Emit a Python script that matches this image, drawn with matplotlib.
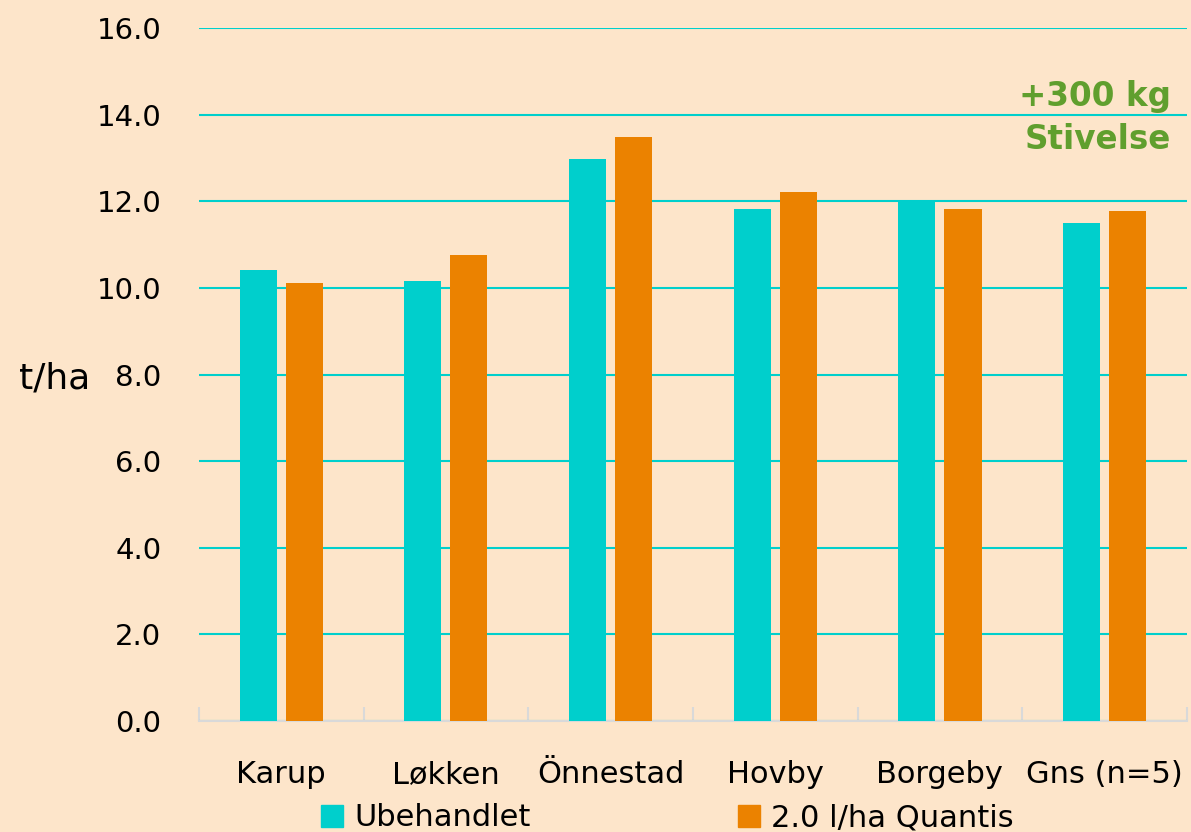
import numpy as np
import matplotlib.pyplot as plt
from matplotlib.patches import Patch

sites = ["Karup", "Løkken", "Önnestad", "Hovby", "Borgeby", "Gns (n=5)"]
ubehandlet = [10.42, 10.16, 12.97, 11.82, 12.02, 11.50]
quantis = [10.12, 10.76, 13.49, 12.22, 11.82, 11.77]
series_names = ["Ubehandlet", "2.0 l/ha Quantis"]

bg = "#fde5ca"
teal = "#00cfcc"
orange = "#eb8200"
green = "#609f2e"

plt.rcParams['font.family'] = ['DejaVu Sans']

fig = plt.figure(figsize=(11.91, 8.32), dpi=100, facecolor=bg)
ax = fig.add_axes([0.167, 0.1334, 0.8296, 0.8329], facecolor=bg)

x = np.arange(len(sites))
w = 0.225
ax.bar(x - 0.14, ubehandlet, w, color=teal, zorder=3)
ax.bar(x + 0.14, quantis, w, color=orange, zorder=3)

ax.set_xlim(-0.5, len(sites) - 0.5)
ax.set_ylim(0, 16)
ax.set_yticks(np.arange(0, 16.1, 2))
ax.set_yticklabels([f"{v:.1f}" for v in np.arange(0, 16.1, 2)])
ax.grid(axis="y", color=teal, linewidth=1.5, zorder=0)

for s in ["top", "right", "left"]:
    ax.spines[s].set_visible(False)
ax.spines["bottom"].set_color("#d9d9d9")
ax.spines["bottom"].set_linewidth(1.5)

# category boundaries carry the tick marks
ax.set_xticks(np.arange(-0.5, len(sites), 1.0))
ax.set_xticklabels([])
ax.tick_params(axis="x", length=10, width=1.5, color="#d9d9d9", direction="in")
ax.tick_params(axis="y", length=0, labelsize=21, pad=27)

# category names on a common baseline under the centres
for xi, name in zip(x, sites):
    ax.text(xi, -0.0895, name, transform=ax.get_xaxis_transform(), ha="center", va="baseline",
            fontsize=22)

fig.text(0.016, 0.545, "t/ha", fontsize=26, va="center", ha="left")

fig.text(0.983, 0.858, "+300 kg\nStivelse", ha="right", va="center",
         fontsize=23.5, fontweight="bold", color=green, linespacing=1.4)

handles = [Patch(color=teal, label=series_names[0]), Patch(color=orange, label=series_names[1])]
fig.legend(handles=handles, loc="center", bbox_to_anchor=(0.5605, 0.017), ncol=2, frameon=False,
           fontsize=22, handlelength=0.72, handleheight=0.72, handletextpad=0.35, columnspacing=6.8,
           borderpad=0)

fig.savefig("out.png", dpi=100, facecolor=bg)
